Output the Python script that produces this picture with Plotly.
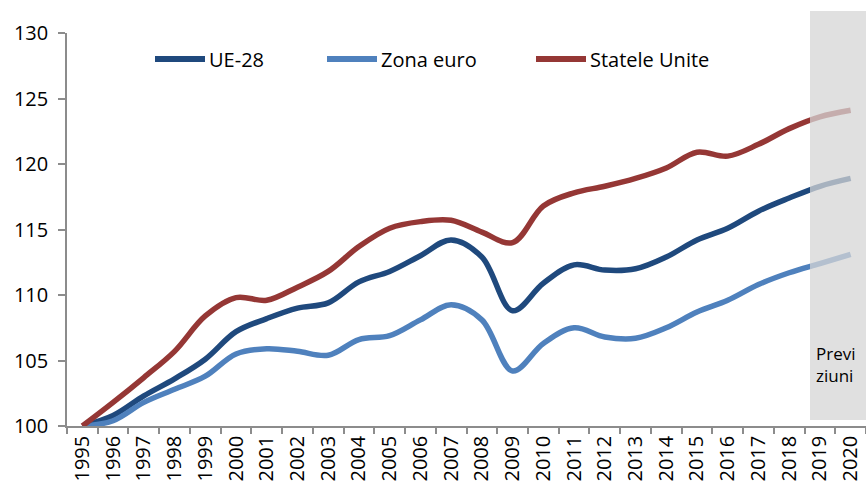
import plotly.graph_objects as go

years = [str(y) for y in range(1995, 2021)]
ue28 = [100, 100.8, 102.3, 103.6, 105.1, 107.2, 108.2, 109.0, 109.4, 111.0, 111.8, 113.0,
        114.2, 112.9, 108.8, 110.9, 112.3, 111.9, 112.0, 112.9, 114.2, 115.1, 116.4, 117.4,
        118.3, 118.9]
zona_euro = [100, 100.4, 101.8, 102.8, 103.8, 105.5, 105.9, 105.7, 105.4, 106.6, 106.9, 108.1,
             109.25, 108.1, 104.2, 106.3, 107.5, 106.8, 106.7, 107.5, 108.7, 109.6, 110.8, 111.7,
             112.4, 113.1]
statele_unite = [100, 101.8, 103.7, 105.7, 108.4, 109.8, 109.6, 110.6, 111.8, 113.7, 115.1, 115.6,
                 115.7, 114.8, 114.0, 116.8, 117.8, 118.3, 118.9, 119.7, 120.9, 120.6, 121.5,
                 122.7, 123.6, 124.1]

names = ["UE-28", "Zona euro", "Statele Unite"]
colors = ["#1F497D", "#4F81BD", "#953735"]
series = [ue28, zona_euro, statele_unite]

FONT = "Open Sans"
W, H = 866, 486
L, R, T, B = 67, 0, 33, 60
pw, ph = W - L - R, H - T - B

def px_x(p):
    return (p - L) / pw

def px_y(p):
    return (H - B - p) / ph

fig = go.Figure()
for name, col, vals in zip(names, colors, series):
    fig.add_trace(go.Scatter(x=years, y=vals, mode="lines", name=name,
                             line=dict(color=col, width=5.5, shape="spline", smoothing=1.0),
                             showlegend=False))

shapes = []
annotations = []
# forecast shading
shapes.append(dict(type="rect", xref="paper", yref="paper",
                   x0=px_x(810), x1=1.0, y0=px_y(420), y1=px_y(11),
                   fillcolor="rgb(214,214,214)", opacity=0.75, line=dict(width=0),
                   layer="above"))
annotations.append(dict(xref="paper", yref="paper", x=px_x(814), y=px_y(364),
                        xanchor="left", yanchor="middle", align="left",
                        text="Previ<br>ziuni", showarrow=False,
                        font=dict(family=FONT, size=17, color="#000")))

# custom legend
leg_x = [(155, 205), (327, 377), (536, 586)]
leg_y = px_y(59)
for (a, b), name, col in zip(leg_x, names, colors):
    shapes.append(dict(type="line", xref="paper", yref="paper",
                       x0=px_x(a), x1=px_x(b), y0=leg_y, y1=leg_y,
                       line=dict(color=col, width=6)))
    annotations.append(dict(xref="paper", yref="paper", x=px_x(b + 2), y=leg_y,
                            xanchor="left", yanchor="middle", text=name, showarrow=False,
                            font=dict(family=FONT, size=20, color="#000")))

fig.update_layout(
    width=W, height=H, autosize=False,
    margin=dict(l=L, r=R, t=T, b=B),
    paper_bgcolor="white", plot_bgcolor="white",
    font=dict(family=FONT, size=20, color="#000"),
    shapes=shapes, annotations=annotations,
    xaxis=dict(type="category", range=[-0.5, 25.5], tickson="boundaries",
               showline=True, linecolor="#8c8c8c", linewidth=1.5,
               ticks="outside", ticklen=6, tickcolor="#8c8c8c", tickwidth=1.5,
               tickangle=-90, showgrid=False, zeroline=False,
               tickfont=dict(family=FONT, size=20, color="#000")),
    yaxis=dict(range=[100, 130], dtick=5, tick0=100,
               showline=True, linecolor="#8c8c8c", linewidth=1.5,
               ticks="outside", ticklen=7, tickcolor="#8c8c8c", tickwidth=1.5,
               showgrid=False, zeroline=False, ticklabelstandoff=6,
               tickfont=dict(family=FONT, size=20, color="#000")),
)

fig.write_html("out.html")
